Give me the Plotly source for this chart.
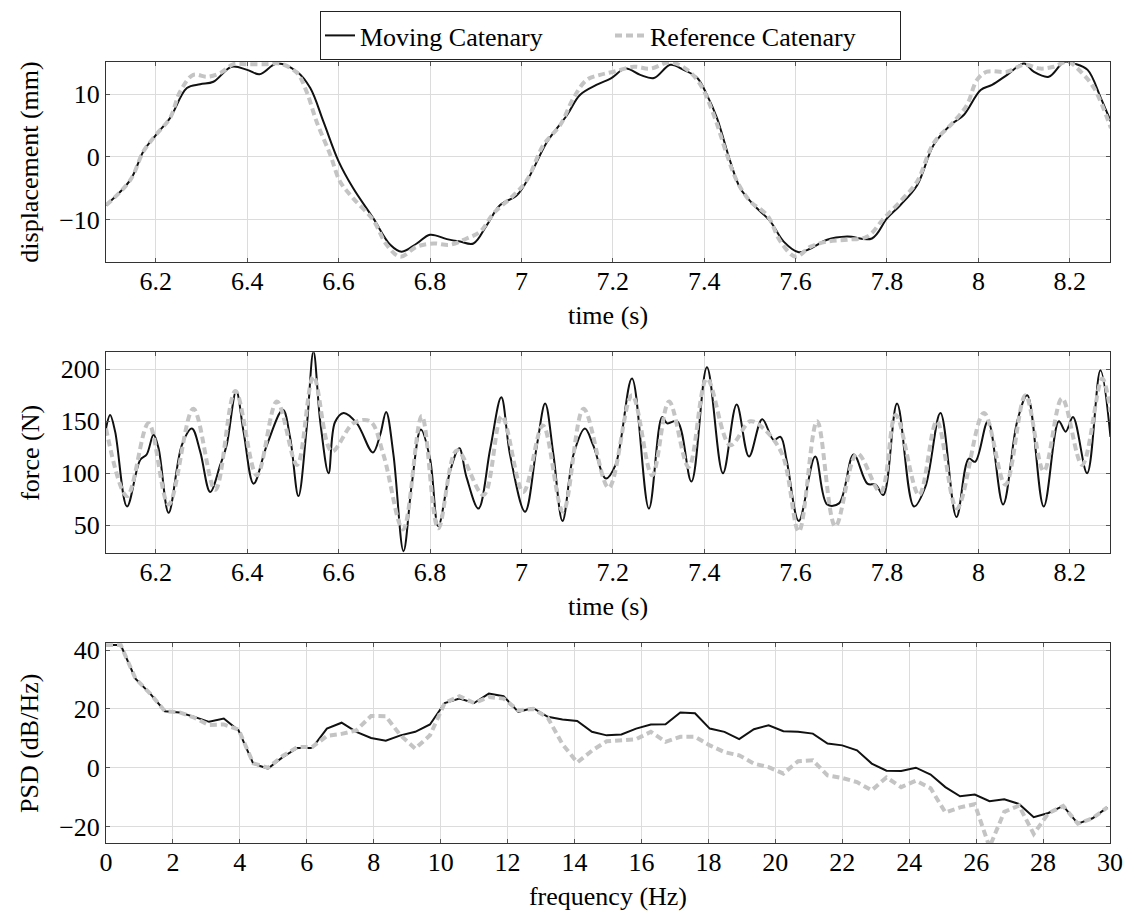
import plotly.graph_objects as go

# ---------------- data ----------------
# displacement (mm) vs time (s)
t_disp_moving = [6.091, 6.144, 6.173, 6.200, 6.231, 6.268, 6.297, 6.326, 6.366, 6.400, 6.427, 6.465, 6.509,
                 6.538, 6.567, 6.600, 6.632, 6.676, 6.713, 6.738, 6.771, 6.800, 6.837, 6.866, 6.895, 6.924,
                 6.953, 6.990, 7.019, 7.056, 7.100, 7.128, 7.164, 7.195, 7.228, 7.260, 7.290, 7.326, 7.355,
                 7.385, 7.406, 7.428, 7.457, 7.479, 7.509, 7.545, 7.574, 7.607, 7.633, 7.669, 7.713, 7.767,
                 7.800, 7.829, 7.866, 7.902, 7.939, 7.968, 8.005, 8.030, 8.063, 8.100, 8.121, 8.154, 8.188,
                 8.210, 8.239, 8.268, 8.290]
disp_moving = [-7.7, -3.7, 0.9, 3.5, 6.2, 11.0, 11.6, 12.0, 14.4, 13.9, 13.2, 14.9, 13.6,
               11.0, 5.6, -0.7, -5.0, -9.8, -14.0, -15.1, -13.8, -12.4, -13.1, -13.5, -13.8, -10.9,
               -7.7, -6.1, -2.9, 2.4, 6.7, 9.9, 11.5, 12.5, 14.1, 13.1, 12.6, 14.7, 13.9,
               12.6, 9.9, 6.2, -0.7, -5.0, -7.7, -10.3, -13.5, -15.2, -14.6, -13.2, -12.7, -13.0,
               -9.8, -7.7, -4.5, 1.9, 5.1, 6.7, 10.7, 11.5, 13.1, 14.9, 13.6, 12.8, 15.2,
               14.9, 13.9, 9.4, 5.6]

t_disp_ref = [6.091, 6.144, 6.173, 6.200, 6.231, 6.253, 6.282, 6.312, 6.341, 6.370, 6.400, 6.443, 6.472,
              6.509, 6.530, 6.552, 6.582, 6.603, 6.632, 6.676, 6.705, 6.735, 6.771, 6.808, 6.844, 6.880,
              6.910, 6.939, 6.983, 7.012, 7.048, 7.085, 7.114, 7.143, 7.172, 7.202, 7.246, 7.282, 7.326,
              7.363, 7.392, 7.421, 7.450, 7.472, 7.501, 7.538, 7.567, 7.600, 7.633, 7.669, 7.713, 7.757,
              7.793, 7.829, 7.866, 7.902, 7.946, 7.975, 7.997, 8.019, 8.063, 8.100, 8.136, 8.165, 8.195,
              8.224, 8.253, 8.290]
disp_ref = [-7.7, -3.7, 0.9, 3.5, 6.2, 10.4, 13.1, 12.8, 13.4, 14.8, 14.8, 14.8, 14.9,
            13.4, 10.4, 5.6, 0.3, -3.9, -6.6, -10.1, -14.0, -15.9, -14.3, -13.8, -14.0, -13.0,
            -11.9, -9.0, -6.1, -3.7, 1.9, 5.1, 9.4, 12.3, 13.1, 13.6, 14.4, 14.1, 15.1,
            13.9, 11.5, 6.7, 0.3, -3.9, -7.1, -9.3, -13.5, -15.9, -14.3, -13.5, -13.2, -12.7,
            -9.8, -7.1, -3.9, 2.2, 5.6, 8.3, 12.3, 13.6, 13.6, 14.7, 14.1, 14.4, 15.2,
            13.6, 11.0, 4.6]

# force (N) vs time (s)
t_force_moving = [6.091, 6.100, 6.111, 6.137, 6.166, 6.180, 6.195, 6.206, 6.228, 6.257, 6.279, 6.297, 6.319,
                  6.341, 6.355, 6.376, 6.392, 6.414, 6.443, 6.478, 6.494, 6.512, 6.530, 6.545, 6.560, 6.578,
                  6.592, 6.611, 6.640, 6.675, 6.691, 6.704, 6.720, 6.742, 6.760, 6.780, 6.800, 6.818, 6.844,
                  6.864, 6.880, 6.906, 6.932, 6.956, 6.975, 7.008, 7.034, 7.052, 7.070, 7.090, 7.114, 7.139,
                  7.157, 7.185, 7.206, 7.242, 7.279, 7.308, 7.319, 7.341, 7.372, 7.406, 7.441, 7.471, 7.498,
                  7.527, 7.552, 7.567, 7.581, 7.607, 7.643, 7.669, 7.695, 7.727, 7.757, 7.775, 7.792, 7.822,
                  7.859, 7.884, 7.917, 7.952, 7.979, 7.993, 8.021, 8.054, 8.085, 8.107, 8.143, 8.176, 8.191,
                  8.207, 8.238, 8.267, 8.289]
force_moving = [143, 156, 140, 68, 113, 118, 137, 124, 62, 127, 143, 121, 82,
                108, 127, 179, 140, 90, 127, 161, 134, 78, 143, 217, 149, 100,
                149, 158, 148, 120, 137, 159, 118, 25, 89, 142, 114, 49, 102,
                124, 96, 66, 124, 173, 118, 63, 127, 167, 118, 54, 118, 143,
                127, 95, 108, 191, 66, 154, 148, 150, 92, 202, 100, 166, 116,
                152, 132, 135, 111, 54, 116, 70, 71, 118, 90, 89, 79, 167,
                68, 87, 158, 58, 114, 111, 150, 70, 150, 175, 68, 150, 140,
                154, 100, 199, 135]

t_force_ref = [6.091, 6.137, 6.184, 6.228, 6.282, 6.330, 6.374, 6.421, 6.465, 6.509, 6.545, 6.585, 6.632,
               6.669, 6.698, 6.741, 6.782, 6.818, 6.859, 6.917, 6.957, 7.004, 7.047, 7.091, 7.136, 7.191,
               7.242, 7.286, 7.323, 7.366, 7.406, 7.457, 7.501, 7.530, 7.571, 7.607, 7.647, 7.687, 7.735,
               7.786, 7.819, 7.870, 7.909, 7.953, 8.012, 8.059, 8.103, 8.143, 8.183, 8.227, 8.271, 8.289]
force_ref = [143, 78, 148, 70, 162, 84, 179, 98, 169, 108, 193, 121, 148,
             150, 118, 46, 155, 47, 122, 79, 155, 82, 146, 63, 162, 86,
             175, 98, 169, 106, 191, 127, 150, 143, 118, 44, 150, 49, 119,
             82, 156, 79, 150, 66, 158, 89, 175, 102, 172, 108, 191, 159]

# PSD (dB/Hz) vs frequency (Hz)
freq = [0.00, 0.44, 0.88, 1.32, 1.76, 2.20, 2.64, 3.08, 3.52, 3.96, 4.40, 4.84, 5.28, 5.72, 6.16, 6.60,
        7.04, 7.48, 7.92, 8.36, 8.80, 9.24, 9.68, 10.12, 10.56, 11.00, 11.44, 11.88, 12.32, 12.76, 13.20,
        13.64, 14.08, 14.52, 14.96, 15.40, 15.84, 16.28, 16.72, 17.16, 17.60, 18.04, 18.48, 18.92, 19.36,
        19.80, 20.24, 20.68, 21.12, 21.56, 22.00, 22.44, 22.88, 23.32, 23.76, 24.20, 24.64, 25.08, 25.52,
        25.96, 26.40, 26.84, 27.28, 27.72, 28.16, 28.60, 29.04, 29.48, 29.92]
psd_moving = [41.7, 41.7, 30.3, 25.2, 19.2, 18.8, 17.3, 15.6, 16.7, 12.7, 1.4, -0.3, 3.6, 6.7, 6.7, 13.3,
              15.3, 12.2, 10.1, 9.2, 11.0, 12.2, 14.7, 22.0, 23.5, 22.0, 25.2, 24.3, 19.0, 20.3, 17.3,
              16.4, 15.9, 12.2, 11.0, 11.3, 13.3, 14.7, 14.8, 18.8, 18.5, 13.3, 12.2, 9.7, 13.1,
              14.4, 12.4, 12.2, 11.6, 8.2, 7.6, 5.9, 1.4, -1.0, -1.1, 0.0, -2.3, -6.6, -9.7,
              -9.1, -11.4, -10.7, -12.3, -16.8, -15.4, -13.0, -19.0, -17.2, -13.5]
psd_ref = [41.7, 41.7, 30.3, 25.2, 19.2, 18.8, 17.0, 14.5, 14.7, 13.0, 1.5, 0.0, 4.0, 7.0, 7.0, 10.8,
           11.5, 12.7, 17.6, 17.5, 11.0, 6.5, 11.0, 22.0, 24.3, 22.0, 24.0, 23.5, 19.5, 20.0, 17.0,
           8.0, 1.8, 5.8, 9.0, 9.3, 9.7, 12.2, 8.8, 10.5, 10.5, 7.6, 5.3, 4.2, 1.4,
           0.2, -2.0, 2.2, 2.5, -2.6, -3.5, -4.9, -7.7, -3.3, -6.6, -4.4, -7.0, -15.2, -13.5,
           -12.4, -27.0, -15.0, -12.9, -22.5, -15.5, -13.0, -19.0, -17.2, -13.5]

time_ticks = [6.2, 6.4, 6.6, 6.8, 7.0, 7.2, 7.4, 7.6, 7.8, 8.0, 8.2]
time_labels = ["6.2", "6.4", "6.6", "6.8", "7", "7.2", "7.4", "7.6", "7.8", "8", "8.2"]
disp_ticks = [-10, 0, 10]
force_ticks = [50, 100, 150, 200]
psd_ticks = [-20, 0, 20, 40]
freq_ticks = list(range(0, 31, 2))

# ---------------- styling ----------------
FONT = "Liberation Serif"
FS = 26
BLACK = "#111111"
GREY = "#c4c4c4"
moving_line = dict(color=BLACK, width=2)
ref_line = dict(color=GREY, width=4, dash="7px,4px")

fig = go.Figure()

def add_pair(tm, ym, tr, yr, xa, ya, show, shape):
    fig.add_trace(go.Scatter(x=tm, y=ym, mode="lines", name="Moving Catenary", line=dict(**moving_line, shape=shape),
                             xaxis=xa, yaxis=ya, showlegend=show, legendgroup="m"))
    fig.add_trace(go.Scatter(x=tr, y=yr, mode="lines", name="Reference Catenary", line=dict(**ref_line, shape=shape),
                             xaxis=xa, yaxis=ya, showlegend=show, legendgroup="r"))

add_pair(t_disp_moving, disp_moving, t_disp_ref, disp_ref, "x", "y", True, "spline")
add_pair(t_force_moving, force_moving, t_force_ref, force_ref, "x2", "y2", False, "spline")
add_pair(freq, psd_moving, freq, psd_ref, "x3", "y3", False, "linear")

axis_common = dict(showline=True, linecolor="#333333", linewidth=1, mirror="allticks",
                   ticks="inside", ticklen=4, tickcolor="#555555", tickwidth=1,
                   showgrid=True, gridcolor="#dcdcdc", gridwidth=1, zeroline=False,
                   automargin=False,
                   tickfont=dict(family=FONT, size=FS, color="black"))
xaxis_extra = dict(ticklabelstandoff=-5)
title_font = dict(family=FONT, size=FS, color="black")

# The page has an 8px body margin; positions below are in window pixels.
OFF = 8
W = 1135 - OFF
H = 917 - OFF
def dom(top, bottom):
    return [1 - (bottom - OFF) / H, 1 - (top - OFF) / H]

fig.update_layout(
    width=W, height=H,
    margin=dict(l=106 - OFF, r=1135 - 1110, t=0, b=0, autoexpand=False),
    paper_bgcolor="white", plot_bgcolor="white",
    font=dict(family=FONT, size=FS, color="black"),
    xaxis=dict(axis_common, **xaxis_extra, domain=[0, 1], anchor="y", range=[6.091, 8.288],
               tickvals=time_ticks, ticktext=time_labels,
               title=dict(text="time (s)", font=title_font, standoff=11)),
    yaxis=dict(axis_common, domain=dom(61.7, 262.3), anchor="x", range=[-16.8, 15.2],
               tickvals=disp_ticks, title=dict(text="displacement (mm)", font=title_font, standoff=13)),
    xaxis2=dict(axis_common, **xaxis_extra, domain=[0, 1], anchor="y2", range=[6.091, 8.288],
                tickvals=time_ticks, ticktext=time_labels,
                title=dict(text="time (s)", font=title_font, standoff=11)),
    yaxis2=dict(axis_common, domain=dom(352.3, 553.3), anchor="x2", range=[23, 216.3],
                tickvals=force_ticks, title=dict(text="force (N)", font=title_font, standoff=13)),
    xaxis3=dict(axis_common, **xaxis_extra, domain=[0, 1], anchor="y3", range=[0, 30],
                tickvals=freq_ticks, title=dict(text="frequency (Hz)", font=title_font, standoff=11)),
    yaxis3=dict(axis_common, domain=dom(643.3, 843.3), anchor="x3", range=[-25.7, 42.3],
                tickvals=psd_ticks, title=dict(text="PSD (dB/Hz)", font=title_font, standoff=13)),
    legend=dict(orientation="h", x=(610.5 - 106) / 1004, xanchor="center",
                y=1 - (11 - OFF) / H, yanchor="top",
                bordercolor="#222222", borderwidth=1, bgcolor="white",
                font=dict(family=FONT, size=FS, color="black"),
                entrywidth=245, entrywidthmode="pixels", tracegroupgap=0),
    showlegend=True,
)

fig.write_html("out.html")
